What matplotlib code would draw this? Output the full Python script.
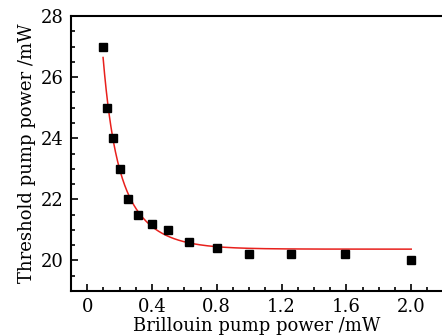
import numpy as np
import matplotlib
matplotlib.use('Agg')
import matplotlib.pyplot as plt
from matplotlib.ticker import MultipleLocator

# measured points
brillouin_power = [0.1, 0.125, 0.16, 0.2, 0.25, 0.315, 0.4, 0.5, 0.63, 0.8, 1.0, 1.26, 1.59, 2.0]
threshold_power = [27.0, 25.0, 24.0, 23.0, 22.0, 21.5, 21.2, 21.0, 20.6, 20.4, 20.2, 20.2, 20.2, 20.0]

# decay fit y = y0 + A1*exp(-x/t1) + A2*exp(-x/t2), parameters
fit_y0 = 20.37
fit_A1, fit_t1 = 12.8, 0.059
fit_A2, fit_t2 = 6.6, 0.181
fit_range = (0.098, 2.0)

xticks = [0, 0.4, 0.8, 1.2, 1.6, 2.0]
xticklabels = ['0', '0.4', '0.8', '1.2', '1.6', '2.0']
yticks = [20, 22, 24, 26, 28]

plt.rcParams['font.family'] = 'DejaVu Serif'
plt.rcParams['font.size'] = 12

fig = plt.figure(figsize=(4.42, 3.36), dpi=100)
ax = fig.add_axes([71 / 442, 45 / 336, 1 - 71 / 442, 275 / 336])

xf = np.linspace(fit_range[0], fit_range[1], 400)
yf = fit_y0 + fit_A1 * np.exp(-xf / fit_t1) + fit_A2 * np.exp(-xf / fit_t2)
ax.plot(xf, yf, color='#e8201c', lw=1.1, zorder=2)
ax.plot(brillouin_power, threshold_power, 's', color='black', ms=5.5, zorder=3)

ax.set_xlim(-0.1, 2.19)
ax.set_ylim(19, 28)
ax.set_xticks(xticks)
ax.set_xticklabels(xticklabels)
ax.set_yticks(yticks)
ax.xaxis.set_minor_locator(MultipleLocator(0.1))
ax.yaxis.set_minor_locator(MultipleLocator(0.5))
ax.tick_params(which='both', direction='in', width=1.2, labelsize=13)
ax.tick_params(which='major', length=5, pad=5)
ax.tick_params(which='minor', length=3)
ax.tick_params(top=False, right=False, which='both')

ax.spines['right'].set_visible(False)
for s in ['left', 'top', 'bottom']:
    ax.spines[s].set_linewidth(1.5)

ax.set_xlabel('Brillouin pump power /mW', fontsize=13, labelpad=1)
ax.set_ylabel('Threshold pump power /mW', fontsize=13, labelpad=4)

fig.savefig('out.png', dpi=100)
